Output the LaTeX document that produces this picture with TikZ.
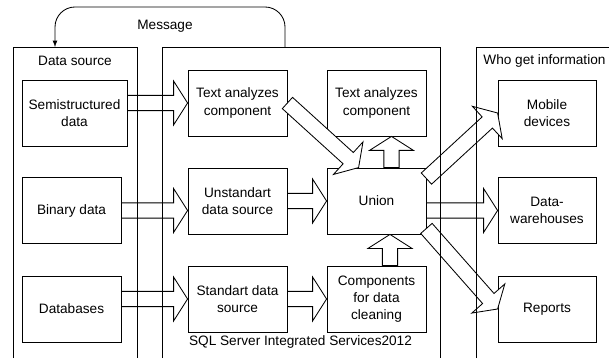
\documentclass[tikz,border=0pt]{standalone}
\usepackage{fontspec}
\setmainfont{Liberation Sans}
\usepackage{tikz}
\usetikzlibrary{calc}
\newcommand{\blockarrow}[2]{%
  \path (#1) coordinate (bas) (#2) coordinate (bat);
  \path ($(bat)!0.35cm!(bas)$) coordinate (bah);
  \draw[flow] ($(bas)!0.19cm!90:(bat)$) -- ($(bah)!0.19cm!-90:(bas)$)
    -- ($(bah)!0.55cm!-90:(bas)$) -- (bat) -- ($(bah)!0.55cm!90:(bas)$)
    -- ($(bah)!0.19cm!90:(bas)$) -- ($(bas)!0.19cm!-90:(bat)$) -- cycle;}

\begin{document}
\begin{tikzpicture}[font=\fontsize{9.7}{12.3}\selectfont,line width=0.6pt,
  box/.style={draw,align=center,inner sep=0pt,minimum width=2.475cm,minimum height=1.65cm},
  flow/.style={draw,fill=white},
  frame/.style={draw}]
  \useasboundingbox (0,0) rectangle (15.225,8.95);
  \node[box,minimum width=2.625cm] (semi) at (1.8625,6.125) {Semistructured\\data};
  \node[box] (binary) at (1.7875,3.6875) {Binary data};
  \node[box] (databases) at (1.7875,1.225) {Databases};
  \node[box] (textL) at (5.9375,6.375) {Text analyzes\\component};
  \node[box] (unstd) at (5.9375,3.925) {Unstandart\\data source};
  \node[box] (std) at (5.9375,1.475) {Standart data\\source};
  \node[box] (textR) at (9.4125,6.375) {Text analyzes\\component};
  \node[box] (union) at (9.4125,3.925) {Union};
  \node[box] (clean) at (9.4125,1.475) {Components\\for data\\cleaning};
  \node[box,minimum width=2.45cm] (mobile) at (13.675,6.125) {Mobile\\devices};
  \node[box,minimum width=2.45cm] (dwh) at (13.675,3.6875) {Data-\\warehouses};
  \node[box,minimum width=2.45cm] (reports) at (13.675,1.225) {Reports};
  \blockarrow{semi.east |- textL.west}{textL.west}
  \blockarrow{binary.east}{unstd.west |- binary.east}
  \blockarrow{databases.east |- std.west}{std.west}
  \blockarrow{unstd.east}{union.west}
  \blockarrow{std.east}{clean.west}
  \blockarrow{union.east |- dwh.west}{dwh.west}
  \blockarrow{[xshift=0.375cm]union.north}{[xshift=0.375cm]textR.south}
  \blockarrow{[xshift=0.3375cm]clean.north}{[xshift=0.3375cm]union.south}
  \blockarrow{textL.east}{[xshift=0.8cm]union.north west}
  \blockarrow{[yshift=-0.275cm]union.north east}{mobile.west}
  \blockarrow{[yshift=0.15cm]union.south east}{reports.west}
  \draw[frame] (0.325,0) |- (3.425,7.775) -- (3.425,0);
  \draw[frame] (4.05,0) |- (11,7.775) -- (11,0);
  \draw[frame] (11.9,0) |- (15.225,7.775);
  \node (dstitle) at (1.875,7.425) {Data source};
  \node (sqltitle) at (7.5125,0.4) {SQL Server Integrated Services2012};
  \node[anchor=west,inner sep=0pt] (whotitle) at (12.075,7.425) {Who get information};
  \coordinate (msgfrom) at (7.125,7.775);
  \coordinate (msgto) at (1.375,7.775);
  \draw[-latex,rounded corners=0.5cm] (msgfrom) -- (7.125,8.775) -| (msgto);
  \node (msg) at (4.125,8.3) {Message};
\end{tikzpicture}
\end{document}
